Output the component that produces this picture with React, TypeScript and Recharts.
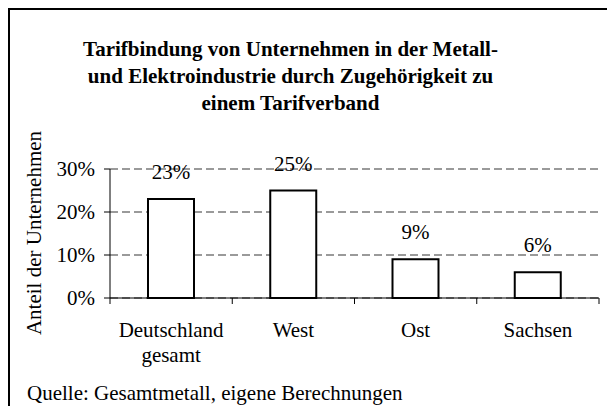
import React from 'react';
import { BarChart, Bar, XAxis, YAxis, CartesianGrid, LabelList } from 'recharts';

const categories = ['Deutschland gesamt', 'West', 'Ost', 'Sachsen'];
const categoryLines = [['Deutschland', 'gesamt'], ['West'], ['Ost'], ['Sachsen']];
const values = [0.23, 0.25, 0.09, 0.06];
const valueLabels = ['23%', '25%', '9%', '6%'];
const yTicks = [0, 0.1, 0.2, 0.3];
const titleLines = [
  'Tarifbindung von Unternehmen in der Metall-',
  'und Elektroindustrie durch Zugehörigkeit zu',
  'einem Tarifverband',
];
const yAxisTitle = 'Anteil der Unternehmen';
const sourceNote = 'Quelle: Gesamtmetall, eigene Berechnungen';

const data = categories.map((c, i) => ({ pos: i + 0.5, name: c, value: values[i], label: valueLabels[i] }));
const xTicks: number[] = [];
for (let i = 0; i <= categories.length; i++) {
  xTicks.push(i);
  if (i < categories.length) xTicks.push(i + 0.5);
}

const FONT = '"Liberation Serif", "Times New Roman", serif';
const FS = 21;

const XTick = (props: any) => {
  const { x, y, payload } = props;
  const v = payload.value as number;
  if (Number.isInteger(v)) {
    return <line x1={x} y1={y} x2={x} y2={y + 6} stroke="#000" strokeWidth={1} />;
  }
  const lines = categoryLines[Math.floor(v)];
  return (
    <text textAnchor="middle" fontFamily={FONT} fontSize={FS} fill="#000">
      {lines.map((l, i) => (
        <tspan key={i} x={x} y={y + 39 + i * 25}>
          {l}
        </tspan>
      ))}
    </text>
  );
};

export default function App() {
  return (
    <div style={{ position: 'relative', width: 607, height: 406, overflow: 'hidden', background: '#fff' }}>
      <style>{`body{margin:0;overflow:hidden;background:#fff}`}</style>
      <BarChart
        width={607}
        height={406}
        data={data}
        margin={{ top: 169, right: 8, bottom: 28, left: 40 }}
      >
        <CartesianGrid vertical={false} stroke="#7a7a7a" strokeWidth={1.4} strokeDasharray="8 4" />
        <XAxis
          dataKey="pos"
          type="number"
          domain={[0, categories.length]}
          ticks={xTicks}
          interval={0}
          tick={<XTick />}
          tickLine={false}
          tickSize={0}
          tickMargin={0}
          axisLine={{ stroke: '#000', strokeWidth: 1 }}
          height={80}
        />
        <YAxis
          type="number"
          domain={[0, 0.3]}
          ticks={yTicks}
          interval={0}
          width={70}
          tickSize={6}
          tickMargin={9}
          tickFormatter={(v: number) => `${Math.round(v * 100)}%`}
          tick={{ fill: '#000', fontSize: FS, fontFamily: FONT }}
          tickLine={{ stroke: '#000' }}
          axisLine={{ stroke: '#000', strokeWidth: 1 }}
        />
        <Bar dataKey="value" fill="#fff" stroke="#000" strokeWidth={2} barSize={46} isAnimationActive={false}>
          <LabelList dataKey="label" position="top" offset={20} fill="#000" fontSize={FS} fontFamily={FONT} />
        </Bar>
      </BarChart>
      <svg
        width={607}
        height={406}
        style={{ position: 'absolute', left: 0, top: 0, pointerEvents: 'none' }}
      >
        <rect x={8} y={8} width={599} height={2} fill="#000" />
        <rect x={8} y={8} width={2} height={398} fill="#000" />
        <text textAnchor="middle" fontFamily={FONT} fontSize={FS} fontWeight="bold" fill="#000">
          {titleLines.map((l, i) => (
            <tspan key={i} x={290.5} y={56 + i * 27}>
              {l}
            </tspan>
          ))}
        </text>
        <text
          transform="rotate(-90)"
          x={-233}
          y={41}
          textAnchor="middle"
          fontFamily={FONT}
          fontSize={FS}
          fill="#000"
        >
          {yAxisTitle}
        </text>
        <text x={27} y={400} fontFamily={FONT} fontSize={FS} fill="#000">
          {sourceNote}
        </text>
      </svg>
    </div>
  );
}
